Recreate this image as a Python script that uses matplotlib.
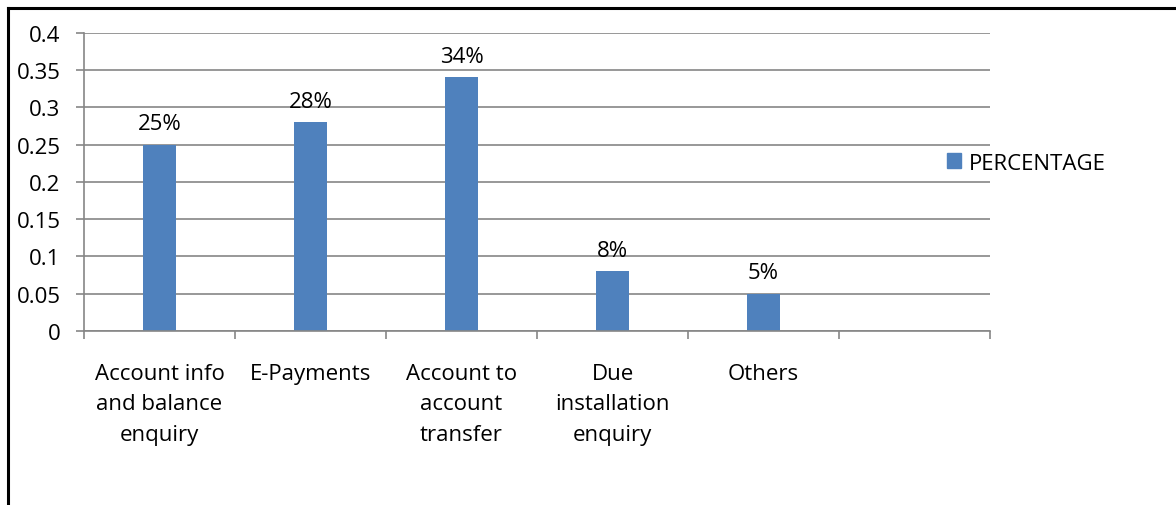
import matplotlib.pyplot as plt
from matplotlib.lines import Line2D
from matplotlib.patches import Patch
import numpy as np

plt.rcParams['font.family'] = ['Open Sans', 'DejaVu Sans']

categories = ["Account info\nand balance\nenquiry", "E-Payments",
              "Account to\naccount\ntransfer", "Due\ninstallation\nenquiry",
              "Others", ""]
percentage = [0.25, 0.28, 0.34, 0.08, 0.05]
bar_labels = ["25%", "28%", "34%", "8%", "5%"]
yticks = [0, 0.05, 0.1, 0.15, 0.2, 0.25, 0.3, 0.35, 0.4]
ytick_labels = ["0", "0.05", "0.1", "0.15", "0.2", "0.25", "0.3", "0.35", "0.4"]

bar_color = "#4F81BD"
grid_color = "#868686"
fs = 16

fig = plt.figure(figsize=(11.76, 5.06), dpi=100)
ax = fig.add_axes([84 / 1176, 174 / 506, 906 / 1176, 298.4 / 506])

x = np.arange(len(percentage))
ax.bar(x, percentage, width=0.225, color=bar_color, zorder=3)
for xi, v, lab in zip(x, percentage, bar_labels):
    ax.annotate(lab, (xi, v), xytext=(0, 7.5), textcoords="offset points",
                ha="center", va="bottom", fontsize=fs)

ax.set_xlim(-0.5, len(categories) - 0.5)
ax.set_ylim(0, 0.4)
ax.set_yticks(yticks)
ax.set_yticklabels(ytick_labels, fontsize=fs)
ax.yaxis.grid(True, color=grid_color, linewidth=1.2, zorder=0)

# tick marks sit on category boundaries, labels at centres
ax.set_xticks(np.arange(len(categories) + 1) - 0.5)
ax.set_xticklabels([])
ax.set_xticks(np.arange(len(categories)), minor=True)
ax.set_xticklabels(categories, minor=True, fontsize=fs, linespacing=1.58,
                   va="top")
ax.tick_params(axis="x", which="major", direction="out", length=6,
               color=grid_color, width=1.2)
ax.tick_params(axis="x", which="minor", length=0, pad=23)
ax.tick_params(axis="y", direction="out", length=6, color=grid_color,
               width=1.2, pad=11)

for side in ("top", "right"):
    ax.spines[side].set_visible(False)
for side in ("left", "bottom"):
    ax.spines[side].set_color(grid_color)
    ax.spines[side].set_linewidth(1.2)
    ax.spines[side].set_zorder(4)

fig.legend(handles=[Patch(color=bar_color, label="PERCENTAGE")],
           loc="center left", bbox_to_anchor=(947 / 1176, 1 - 164 / 506),
           frameon=False, fontsize=fs, handlelength=0.65, handleheight=0.65,
           handletextpad=0.35, borderpad=0, borderaxespad=0)

# outer frame along the top and left edges
fig.add_artist(Line2D([7.5 / 1176, 1], [1 - 8.5 / 506, 1 - 8.5 / 506],
                      transform=fig.transFigure, color="black", linewidth=2.2))
fig.add_artist(Line2D([7.5 / 1176, 7.5 / 1176], [0, 1 - 8.5 / 506],
                      transform=fig.transFigure, color="black", linewidth=2.2))

fig.savefig("out.png", dpi=100)
